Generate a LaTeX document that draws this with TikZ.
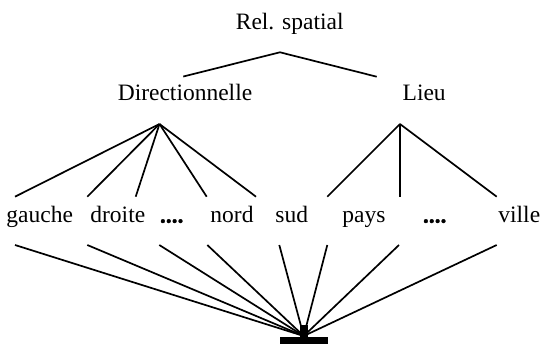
\documentclass[tikz,border=0pt]{standalone}
\usepackage{fontspec}
\setmainfont{Liberation Serif}
\newfontfamily\dotsfont{Liberation Serif Bold}[FakeBold=1.5]
\begin{document}
\begin{tikzpicture}[x=1pt,y=-1pt,
  lbl/.style={anchor=base,inner sep=0pt,font=\fontsize{23.5}{28}\selectfont},
  dotlbl/.style={lbl,font=\fontsize{23.5}{28}\selectfont\dotsfont},
  edge/.style={line width=1.7pt}]
\useasboundingbox (0,0) rectangle (542,345);
% labels
\node[lbl] (rel) at (289.7,30) {Rel. spatial};
\node[lbl] (dir) at (185,100.7) {Directionnelle};
\node[lbl] (lieu) at (424.2,100.7) {Lieu};
\node[lbl] (gauche) at (39.7,222.7) {gauche};
\node[lbl] (droite) at (117.8,222.7) {droite};
\node[dotlbl] (dots1) at (171.7,222.7) {....};
\node[lbl] (nord) at (232,222.7) {nord};
\node[lbl] (sud) at (291.7,222.7) {sud};
\node[lbl] (pays) at (364,222.7) {pays};
\node[dotlbl] (dots2) at (434.7,222.7) {....};
\node[lbl] (ville) at (519.3,222.7) {ville};
% coordinates
\coordinate (relA) at (280,52.3);
\coordinate (dirT) at (183.3,76.5);
\coordinate (lieuT) at (376.7,76.7);
\coordinate (dirA) at (159.5,124);
\coordinate (lieuA) at (400,124);
\foreach \n/\x in {gauche/15,droite/87.3,dots1/135.7,nord/206.7,sud/256,pays/327.3,dots2/400,ville/496.7}{
  \coordinate (\n T) at (\x,196.7);
}
\foreach \n/\x in {gauche/15,droite/87.3,dots1/159.3,nord/207.3,sud/279.3,pays/327.3,dots2/399,ville/496.7}{
  \coordinate (\n B) at (\x,245);
}
\coordinate (base) at (303.7,336);
% edges
\draw[edge] (dirT) -- (relA) -- (lieuT);
\foreach \n in {gauche,droite,dots1,nord,sud}{\draw[edge] (dirA) -- (\n T);}
\foreach \n in {pays,dots2,ville}{\draw[edge] (lieuA) -- (\n T);}
\foreach \n in {gauche,droite,dots1,nord,sud,pays,dots2,ville}{\draw[edge] (\n B) -- (base);}
% ground symbol
\fill (280,337.3) rectangle (327.7,344.3);
\fill (300,325) rectangle (307.5,337.3);
\end{tikzpicture}
\end{document}
